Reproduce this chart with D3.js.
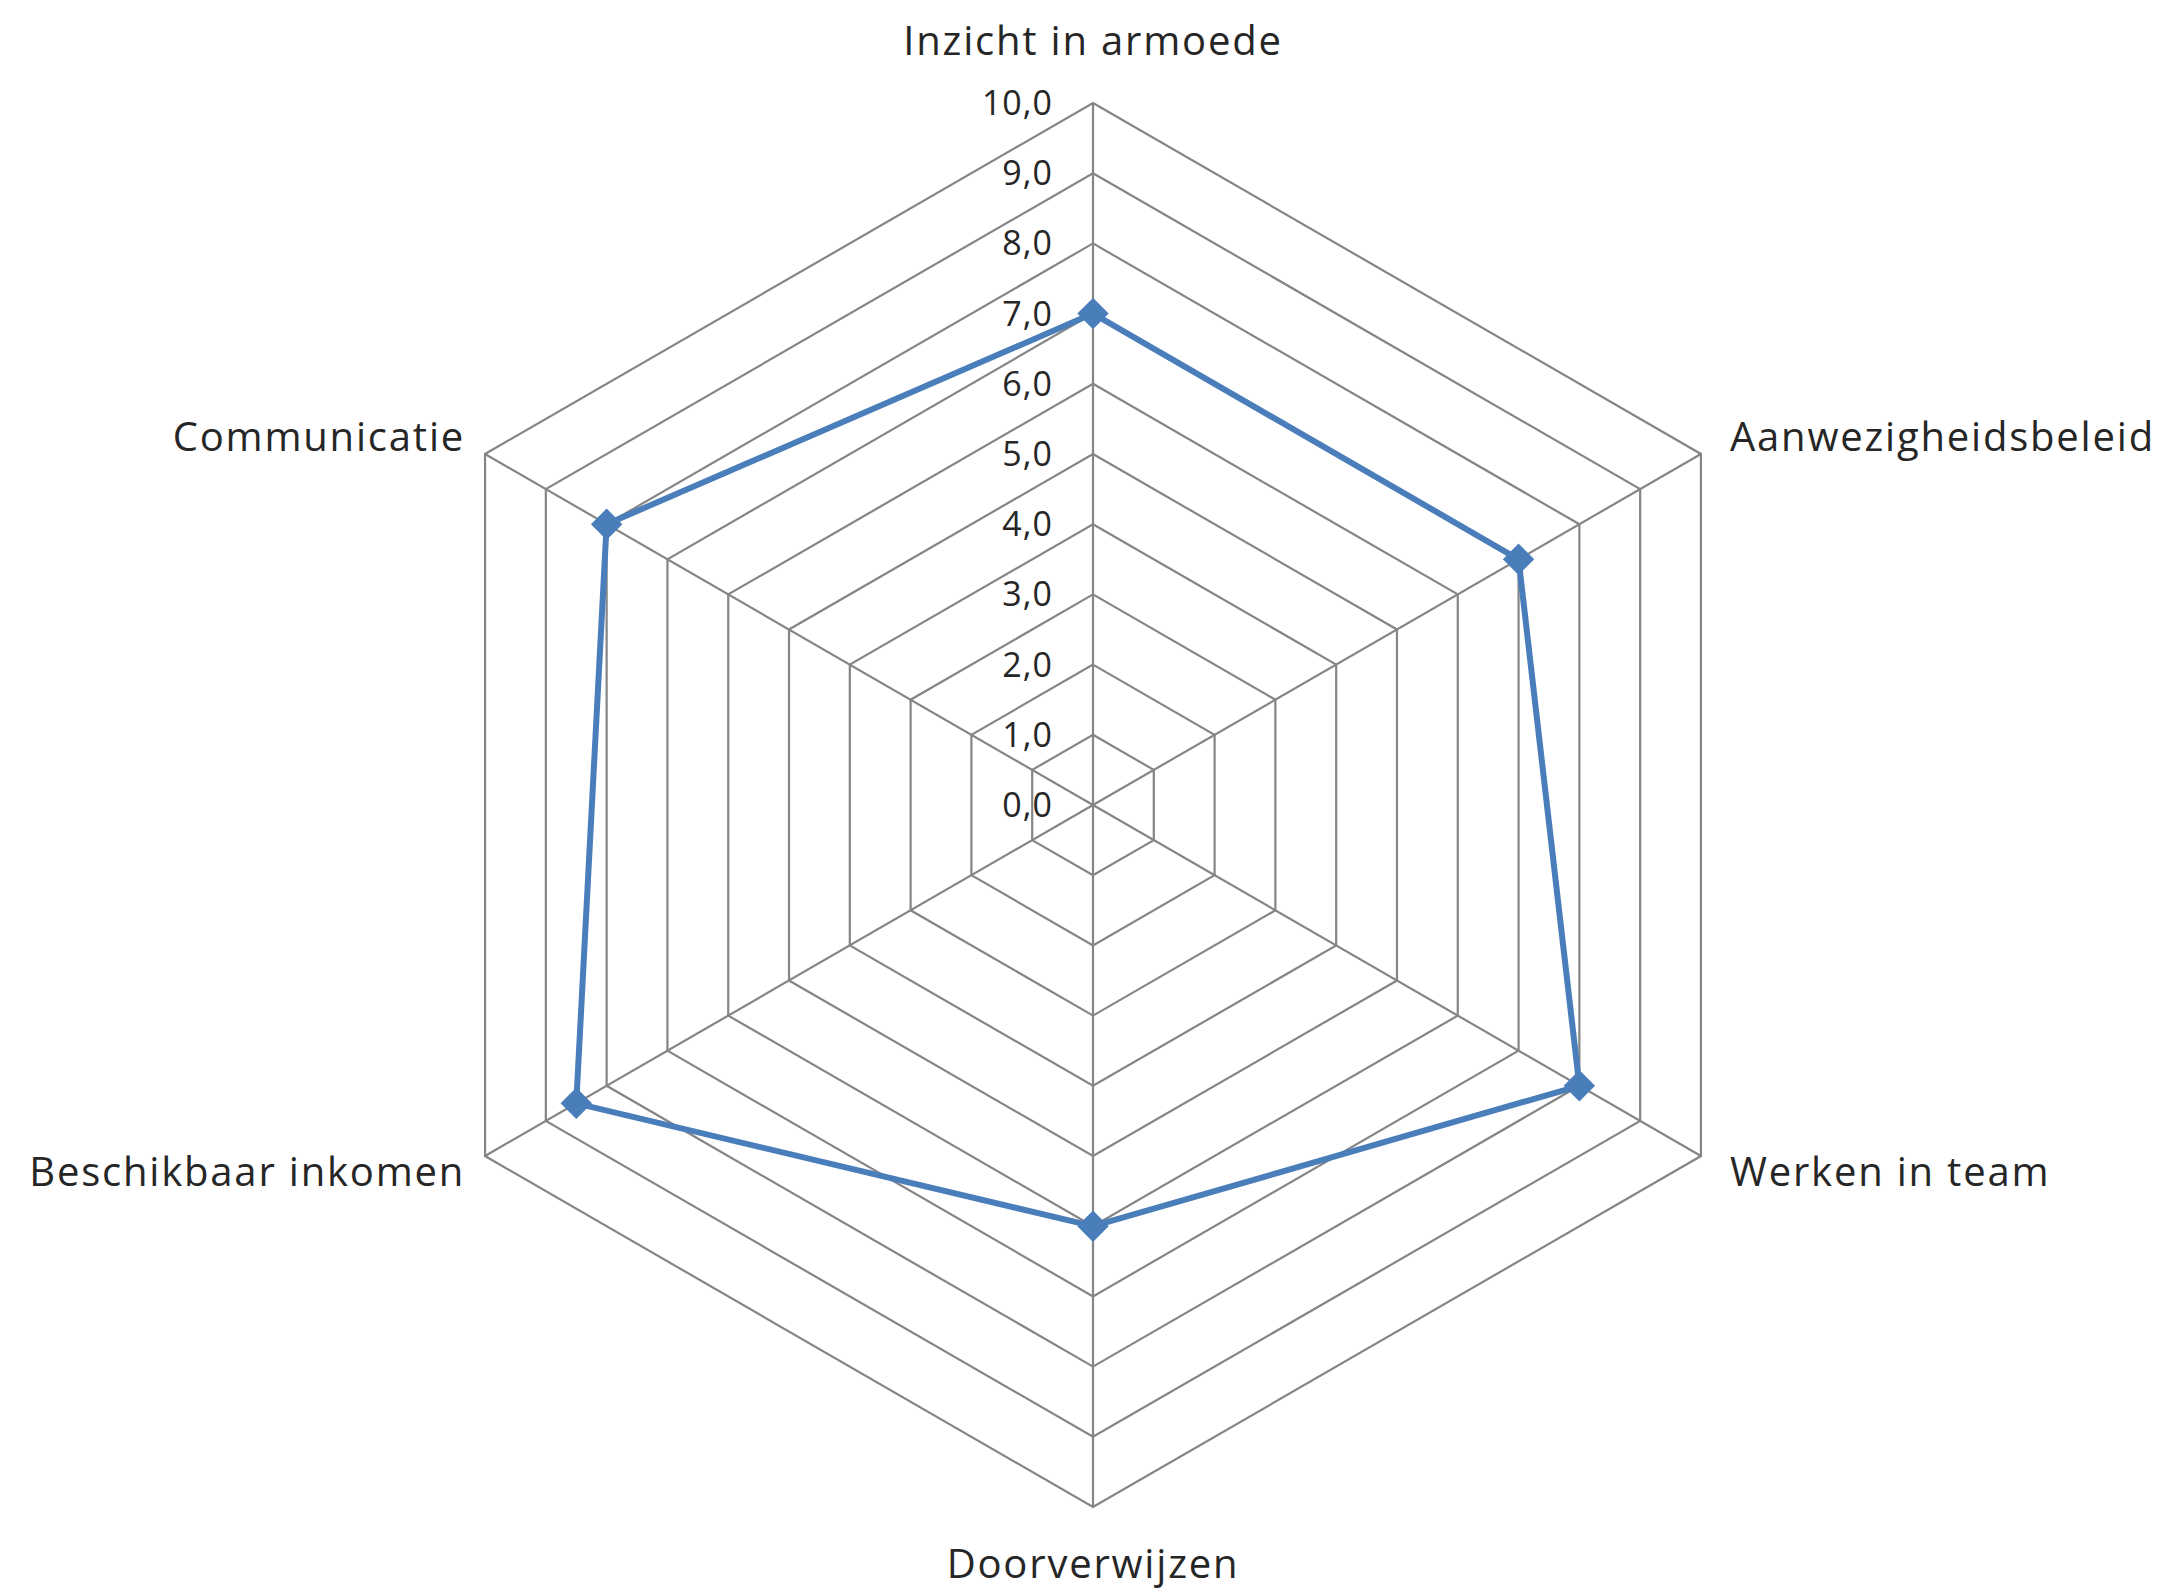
<!DOCTYPE html>
<html>
<head>
<meta charset="utf-8">
<script src="https://cdn.jsdelivr.net/npm/d3@7"></script>
<style>
  html, body { margin: 0; padding: 0; background: #fff; }
  text { font-family: "Open Sans", "Noto Sans", sans-serif; fill: #262626; }
</style>
</head>
<body>
<div id="chart"></div>
<script>
// categories, clockwise from the top
var categories = ['Inzicht in armoede', 'Aanwezigheidsbeleid', 'Werken in team',
  'Doorverwijzen', 'Beschikbaar inkomen', 'Communicatie'];
var scores = [7.0, 7.0, 8.0, 6.0, 8.5, 8.0];
var ticks = [0, 1, 2, 3, 4, 5, 6, 7, 8, 9, 10];

var width = 2170, height = 1594;
var cx = 1093, cy = 805, radius = 702;

var svg = d3.select('#chart').append('svg')
  .attr('width', width)
  .attr('height', height);

var r = d3.scaleLinear().domain([0, 10]).range([0, radius]);
var angle = d3.scaleLinear().domain([0, categories.length]).range([0, 2 * Math.PI]);
var fmt = function (v) { return d3.format('.1f')(v).replace('.', ','); };

var g = svg.append('g').attr('transform', 'translate(' + cx + ',' + cy + ')');

// grid rings
var ring = d3.lineRadial().angle(function (d, i) { return angle(i); }).radius(function (d) { return r(d); })
  .curve(d3.curveLinearClosed);
g.append('g').attr('class', 'rings')
  .selectAll('path')
  .data(ticks.slice(1))
  .enter().append('path')
  .attr('d', function (t) { return ring(categories.map(function () { return t; })); })
  .attr('fill', 'none')
  .attr('stroke', '#858585')
  .attr('stroke-width', 2.2);

// spokes
g.append('g').attr('class', 'spokes')
  .selectAll('line')
  .data(categories)
  .enter().append('line')
  .attr('x1', 0).attr('y1', 0)
  .attr('x2', function (d, i) { return r(10) * Math.sin(angle(i)); })
  .attr('y2', function (d, i) { return -r(10) * Math.cos(angle(i)); })
  .attr('stroke', '#858585')
  .attr('stroke-width', 2.2);

// tick labels
g.append('g').attr('class', 'ticks')
  .selectAll('text')
  .data(ticks)
  .enter().append('text')
  .attr('x', -40)
  .attr('y', function (t) { return -r(t); })
  .attr('dy', '0.35em')
  .attr('text-anchor', 'end')
  .style('font-size', '34px')
  .style('letter-spacing', '1px')
  .text(fmt);

// category labels
g.append('g').attr('class', 'labels')
  .selectAll('text')
  .data(categories)
  .enter().append('text')
  .each(function (d, i) {
    var a = angle(i), vx = r(10) * Math.sin(a), vy = -r(10) * Math.cos(a);
    var el = d3.select(this);
    if (Math.abs(Math.sin(a)) < 0.01) {
      el.attr('text-anchor', 'middle').attr('x', vx)
        .attr('y', vy < 0 ? vy - 48 : vy + 71);
    } else {
      el.attr('text-anchor', vx > 0 ? 'start' : 'end')
        .attr('x', vx > 0 ? vx + 29 : vx - 20)
        .attr('y', vy < 0 ? vy - 3 : vy + 30);
    }
  })
  .style('font-size', '40px')
  .style('letter-spacing', '1.8px')
  .text(function (d) { return d; });

// series
var line = d3.lineRadial().angle(function (d, i) { return angle(i); }).radius(function (d) { return r(d); })
  .curve(d3.curveLinearClosed);
g.append('path')
  .attr('d', line(scores))
  .attr('fill', 'none')
  .attr('stroke', '#4a7ebb')
  .attr('stroke-width', 6)
  .attr('stroke-linejoin', 'round');

g.append('g').attr('class', 'markers')
  .selectAll('path')
  .data(scores)
  .enter().append('path')
  .attr('d', d3.symbol().type(d3.symbolDiamond2).size(520))
  .attr('transform', function (d, i) {
    return 'translate(' + (r(d) * Math.sin(angle(i))) + ',' + (-r(d) * Math.cos(angle(i))) + ')';
  })
  .attr('fill', '#4a7ebb')
  .attr('stroke', '#4a7ebb')
  .attr('stroke-width', 2);
</script>
</body>
</html>
